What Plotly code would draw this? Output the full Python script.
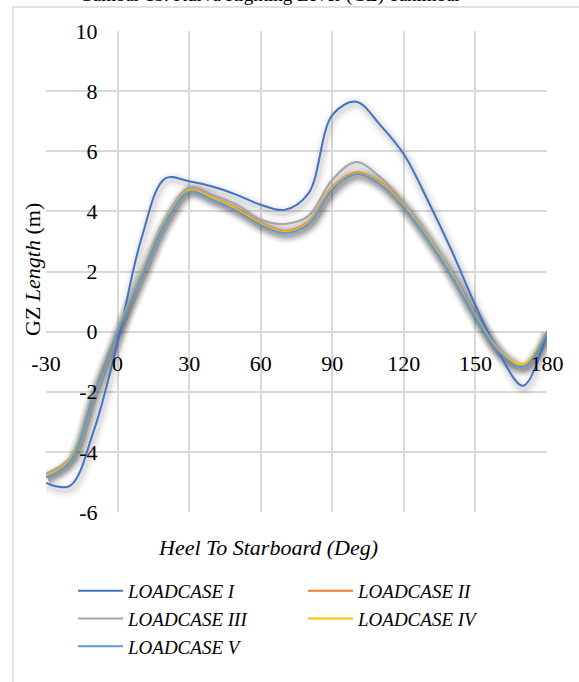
import plotly.graph_objects as go

# ---- data ----
heel_deg = [-30, -20, -10, 0, 10, 20, 30, 40, 50, 60, 70, 80, 90, 100, 110, 120, 130, 140, 150, 160, 170, 180]

gz_lc1 = [-5.03, -5.13, -3.30, -0.35, 3.10, 5.10, 5.00, 4.82, 4.55, 4.22, 4.05, 4.60, 7.20, 7.65, 6.88, 5.90, 4.37, 2.70, 0.87, -0.73, -1.80, 0.00]
gz_lc2 = [-4.78, -4.25, -2.00, 0.05, 1.90, 3.70, 4.72, 4.45, 4.10, 3.62, 3.35, 3.65, 4.80, 5.30, 4.98, 4.20, 3.14, 1.92, 0.53, -0.63, -1.10, 0.00]
gz_lc3 = [-4.72, -4.20, -1.95, 0.05, 1.95, 3.78, 4.80, 4.55, 4.22, 3.72, 3.58, 3.85, 5.05, 5.64, 5.14, 4.30, 3.22, 1.98, 0.55, -0.62, -1.12, 0.00]
gz_lc4 = [-4.80, -4.27, -2.02, 0.04, 1.88, 3.67, 4.70, 4.43, 4.07, 3.59, 3.32, 3.62, 4.77, 5.27, 4.95, 4.17, 3.11, 1.90, 0.51, -0.64, -1.08, 0.00]
gz_lc5 = [-4.85, -4.32, -2.06, 0.02, 1.84, 3.63, 4.66, 4.38, 4.02, 3.55, 3.28, 3.58, 4.73, 5.24, 4.91, 4.13, 3.07, 1.86, 0.49, -0.68, -1.17, 0.00]

series_names = ["LOADCASE I", "LOADCASE II", "LOADCASE III", "LOADCASE IV", "LOADCASE V"]
series_values = [gz_lc1, gz_lc2, gz_lc3, gz_lc4, gz_lc5]
series_colors = ["#4472C4", "#ED7D31", "#A5A5A5", "#FFC000", "#5B9BD5"]

x_ticks = [-30, 0, 30, 60, 90, 120, 150, 180]
x_tick_labels = ["-30", "0", "30", "60", "90", "120", "150", "180"]
y_ticks = [-6, -4, -2, 0, 2, 4, 6, 8, 10]
y_tick_labels = ["-6", "-4", "-2", "0", "2", "4", "6", "8", "10"]

title_text = "Gambar 13. Kurva Righting Lever (GZ) Tanimbar"
x_title = "Heel To Starboard (Deg)"
y_title = "GZ <i>Length</i> (m)"

# ---- figure geometry (page pixel targets; body margin removed below) ----
FONT = "Liberation Serif"
W, H = 579, 682
PLOT_L, PLOT_R, PLOT_T, PLOT_B = 46, 547, 31, 512  # page pixels
ML, MT = PLOT_L, PLOT_T
MR = W - PLOT_R
MB = H - PLOT_B
PW, PH = PLOT_R - PLOT_L, PLOT_B - PLOT_T


def fx(px):
    return (px - PLOT_L) / PW


def fy(py):
    return (PLOT_B - py) / PH


XR = [-30, 180]
YR = [-6, 10]
# shadow offset in pixels
dx_px, dy_px = 1.5, 3.0
xs = dx_px * (XR[1] - XR[0]) / PW
ys = dy_px * (YR[1] - YR[0]) / PH

fig = go.Figure()

# empty trace so the base (grid/label) subplot exists
fig.add_trace(go.Scatter(x=[], y=[], xaxis="x", yaxis="y", showlegend=False, hoverinfo="skip"))

# shadows (soft grey, offset) on x2/y2
for vals in series_values:
    for w, a in [(16, 0.025), (11, 0.04), (6, 0.06)]:
        fig.add_trace(go.Scatter(
            x=heel_deg, y=vals, mode="lines",
            line=dict(color=f"rgba(0,0,0,{a})", width=w, shape="spline", smoothing=1.0),
            xaxis="x2", yaxis="y2", showlegend=False, hoverinfo="skip"))

# main lines on x3/y3
for name, vals, col in zip(series_names, series_values, series_colors):
    fig.add_trace(go.Scatter(
        x=heel_deg, y=vals, mode="lines", name=name,
        line=dict(color=col, width=2, shape="spline", smoothing=1.0),
        xaxis="x3", yaxis="y3"))

x0_frac = (0 - XR[0]) / (XR[1] - XR[0])
y0_frac = (0 - YR[0]) / (YR[1] - YR[0])

fig.update_layout(
    width=W, height=H,
    margin=dict(l=ML, r=MR, t=MT, b=MB, pad=0),
    paper_bgcolor="white", plot_bgcolor="white",
    font=dict(family=FONT, size=22, color="#000000"),
    showlegend=True,
    xaxis=dict(range=XR, tickvals=x_ticks, ticktext=x_tick_labels, showgrid=True,
               gridcolor="#d9d9d9", gridwidth=1.5,
               zeroline=False, showline=False, ticks="", anchor="free", position=y0_frac,
               ticklabelstandoff=16, tickfont=dict(family=FONT, size=22), fixedrange=True),
    yaxis=dict(range=YR, tickvals=y_ticks, ticktext=y_tick_labels, showgrid=True,
               gridcolor="#d9d9d9", gridwidth=1.5,
               zeroline=False, showline=False, ticks="", anchor="free", position=x0_frac,
               ticklabelstandoff=20, tickfont=dict(family=FONT, size=22), fixedrange=True),
    xaxis2=dict(range=[XR[0] - xs, XR[1] - xs], overlaying="x", visible=False),
    yaxis2=dict(range=[YR[0] + ys, YR[1] + ys], overlaying="y", visible=False),
    xaxis3=dict(range=XR, overlaying="x", visible=False),
    yaxis3=dict(range=YR, overlaying="y", visible=False),
    legend=dict(orientation="h", x=fx(73), xanchor="left",
                y=fy(572), yanchor="top",
                entrywidth=170, entrywidthmode="pixels", itemwidth=45,
                font=dict(family=FONT, size=19, style="italic", color="#000000"),
                bgcolor="rgba(0,0,0,0)", tracegroupgap=0),
    shapes=[dict(type="rect", xref="paper", yref="paper",
                 x0=fx(13), x1=1.3, y0=-0.6, y1=fy(7),
                 line=dict(color="#d9d9d9", width=1.5), fillcolor="rgba(0,0,0,0)", layer="below")],
    annotations=[
        dict(text=title_text, xref="paper", yref="paper", x=fx(270), y=fy(8),
             xanchor="center", yanchor="bottom", showarrow=False,
             font=dict(family=FONT, size=19, color="#000000")),
        dict(text=x_title, xref="paper", yref="paper", x=fx(268), y=fy(547),
             xanchor="center", yanchor="middle", showarrow=False,
             font=dict(family=FONT, size=22, style="italic", color="#000000")),
        dict(text=y_title, xref="paper", yref="paper", x=fx(32), y=fy(270),
             xanchor="center", yanchor="middle", textangle=-90, showarrow=False,
             font=dict(family=FONT, size=22, color="#000000")),
    ],
)

fig.write_html("out.html",
               config={"displayModeBar": False},
               post_script="document.body.style.margin='0';document.body.style.overflow='hidden';")
